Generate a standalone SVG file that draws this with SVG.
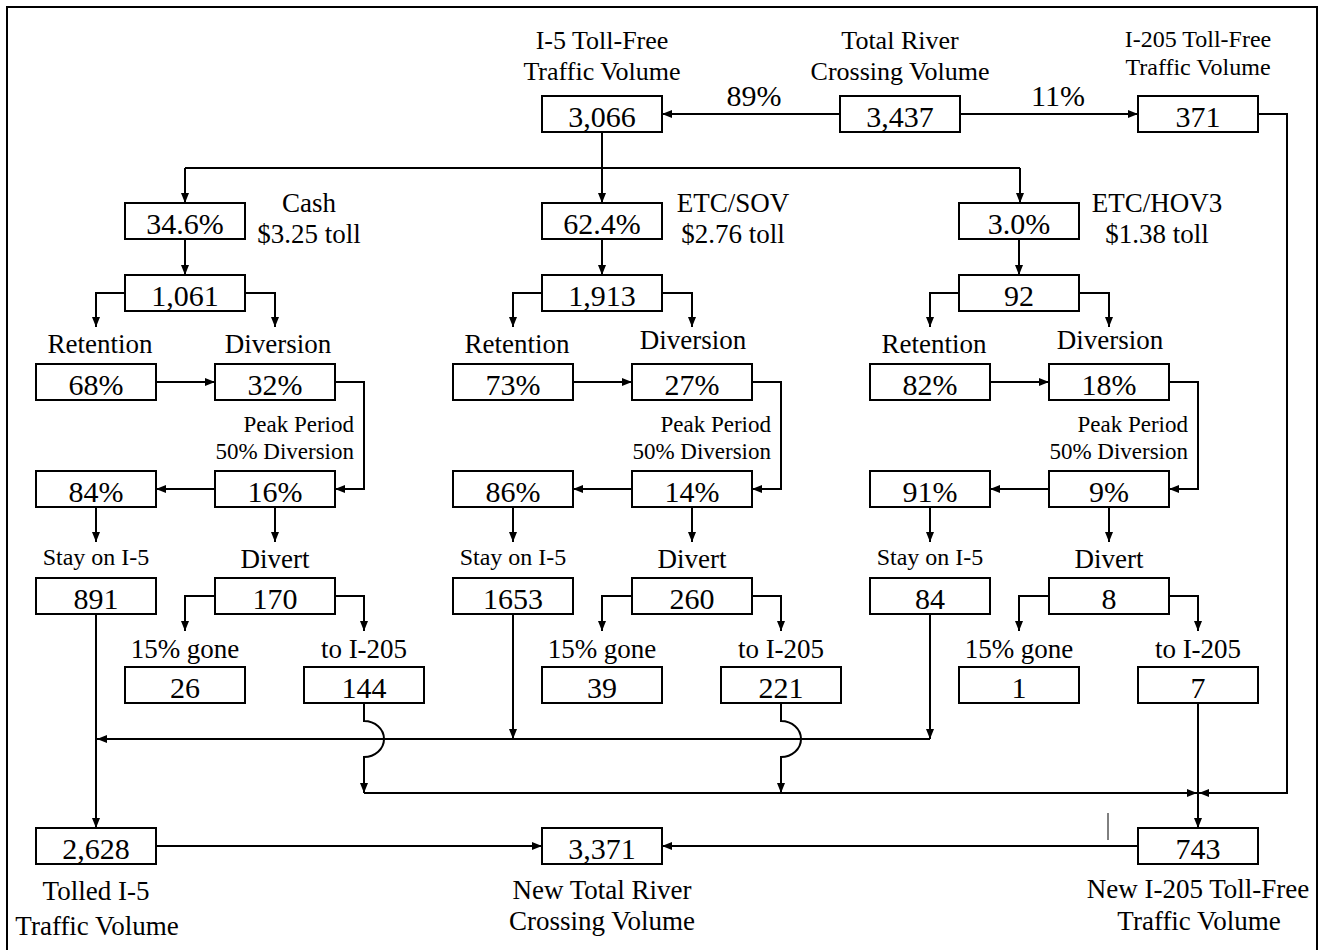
<svg xmlns="http://www.w3.org/2000/svg" width="1328" height="950" viewBox="0 0 1328 950">
<defs>
<marker id="ah" markerUnits="userSpaceOnUse" markerWidth="11" markerHeight="9" refX="10" refY="4" orient="auto">
<path d="M0,0 L10,4 L0,8 z" fill="#000"/>
</marker>
<style>
rect.b{fill:#fff;stroke:#000;stroke-width:2}
text{font-family:"Liberation Serif","Times New Roman",serif;fill:#000}
.v{font-size:30px;text-anchor:middle}
.l{font-size:27px;text-anchor:middle}
.t{font-size:26px;text-anchor:middle}
.s{font-size:24px;text-anchor:middle}
.p{font-size:23px;text-anchor:end}
#conn path{fill:none;stroke:#000;stroke-width:2}
#conn path.a{marker-end:url(#ah)}
</style>
</defs>
<rect width="1328" height="950" fill="#fff"/>
<path d="M7,960 L7,7 L1317,7 L1317,960" fill="none" stroke="#000" stroke-width="2"/>

<g id="conn">
<path class="a" d="M840,114 L662,114"/>
<path class="a" d="M960,114 L1138,114"/>
<path class="a" d="M602,132 L602,203"/>
<path d="M185,168 L1020,168"/>
<path class="a" d="M185,168 L185,203"/>
<path class="a" d="M1020,168 L1020,203"/>
<!-- Cash -->
<path class="a" d="M185,239 L185,275"/>
<path class="a" d="M125,293 L96,293 L96,327"/>
<path class="a" d="M245,293 L275,293 L275,327"/>
<path class="a" d="M156,382 L215,382"/>
<path class="a" d="M335,382 L364,382 L364,489 L335,489"/>
<path class="a" d="M215,489 L156,489"/>
<path class="a" d="M96,507 L96,542"/>
<path class="a" d="M275,507 L275,542"/>
<path class="a" d="M215,596 L185,596 L185,631"/>
<path class="a" d="M335,596 L364,596 L364,631"/>
<path class="a" d="M96,614 L96,828"/>
<path class="a" d="M364,704 L364,721 A20,18 0 0 1 364,757 L364,793"/>
<!-- SOV -->
<path class="a" d="M602,239 L602,275"/>
<path class="a" d="M542,293 L513,293 L513,327"/>
<path class="a" d="M662,293 L692,293 L692,327"/>
<path class="a" d="M573,382 L632,382"/>
<path class="a" d="M752,382 L781,382 L781,489 L752,489"/>
<path class="a" d="M632,489 L573,489"/>
<path class="a" d="M513,507 L513,542"/>
<path class="a" d="M692,507 L692,542"/>
<path class="a" d="M632,596 L602,596 L602,631"/>
<path class="a" d="M752,596 L781,596 L781,631"/>
<path class="a" d="M513,614 L513,739"/>
<path class="a" d="M781,704 L781,721 A20,18 0 0 1 781,757 L781,793"/>
<!-- HOV -->
<path class="a" d="M1019,239 L1019,275"/>
<path class="a" d="M959,293 L930,293 L930,327"/>
<path class="a" d="M1079,293 L1109,293 L1109,327"/>
<path class="a" d="M990,382 L1049,382"/>
<path class="a" d="M1169,382 L1198,382 L1198,489 L1169,489"/>
<path class="a" d="M1049,489 L990,489"/>
<path class="a" d="M930,507 L930,542"/>
<path class="a" d="M1109,507 L1109,542"/>
<path class="a" d="M1049,596 L1019,596 L1019,631"/>
<path class="a" d="M1169,596 L1198,596 L1198,631"/>
<path class="a" d="M930,614 L930,739"/>
<!-- merges -->
<path class="a" d="M930,739 L97,739"/>
<path class="a" d="M364,793 L1197,793"/>
<path class="a" d="M1258,114 L1287,114 L1287,793 L1199,793"/>
<path class="a" d="M1198,704 L1198,828"/>
<path class="a" d="M156,846 L542,846"/>
<path class="a" d="M1138,846 L662,846"/>
<path d="M1108,813 L1108,840" style="stroke-width:1"/>
</g>

<g id="lbl89"><text class="v" x="754" y="106">89%</text></g>
<g id="lbl11"><text class="v" x="1058" y="106">11%</text></g>

<g id="n_i5"><text class="t" x="602" y="49">I-5 Toll-Free</text><text class="t" x="602" y="80">Traffic Volume</text><rect class="b" x="542" y="96" width="120" height="36"/><text class="v" x="602" y="127">3,066</text></g>
<g id="n_total"><text class="t" x="900" y="49">Total River</text><text class="t" x="900" y="80">Crossing Volume</text><rect class="b" x="840" y="96" width="120" height="36"/><text class="v" x="900" y="127">3,437</text></g>
<g id="n_i205"><text class="s" x="1198" y="47">I-205 Toll-Free</text><text class="s" x="1198" y="75">Traffic Volume</text><rect class="b" x="1138" y="96" width="120" height="36"/><text class="v" x="1198" y="127">371</text></g>

<!-- Cash group -->
<g id="n_cash"><rect class="b" x="125" y="203" width="120" height="36"/><text class="v" x="185" y="234">34.6%</text><text class="l" x="309" y="212">Cash</text><text class="l" x="309" y="243">$3.25 toll</text></g>
<g id="n_cash_vol"><rect class="b" x="125" y="275" width="120" height="36"/><text class="v" x="185" y="306">1,061</text></g>
<g id="n_cash_ret"><text class="l" x="100" y="353">Retention</text><rect class="b" x="36" y="364" width="120" height="36"/><text class="v" x="96" y="395">68%</text></g>
<g id="n_cash_div"><text class="l" x="278" y="353">Diversion</text><rect class="b" x="215" y="364" width="120" height="36"/><text class="v" x="275" y="395">32%</text></g>
<g id="n_cash_peak"><text class="p" x="354" y="432">Peak Period</text><text class="p" x="354" y="459">50% Diversion</text></g>
<g id="n_cash_stay_pct"><rect class="b" x="36" y="471" width="120" height="36"/><text class="v" x="96" y="502">84%</text></g>
<g id="n_cash_div_pct"><rect class="b" x="215" y="471" width="120" height="36"/><text class="v" x="275" y="502">16%</text></g>
<g id="n_cash_stay"><text class="s" x="96" y="565">Stay on I-5</text><rect class="b" x="36" y="578" width="120" height="36"/><text class="v" x="96" y="609">891</text></g>
<g id="n_cash_divert"><text class="l" x="275" y="568">Divert</text><rect class="b" x="215" y="578" width="120" height="36"/><text class="v" x="275" y="609">170</text></g>
<g id="n_cash_gone"><text class="l" x="185" y="658">15% gone</text><rect class="b" x="125" y="667" width="120" height="36"/><text class="v" x="185" y="698">26</text></g>
<g id="n_cash_205"><text class="l" x="364" y="658">to I-205</text><rect class="b" x="304" y="667" width="120" height="36"/><text class="v" x="364" y="698">144</text></g>

<!-- SOV group -->
<g id="n_sov"><rect class="b" x="542" y="203" width="120" height="36"/><text class="v" x="602" y="234">62.4%</text><text class="l" x="733" y="212">ETC/SOV</text><text class="l" x="733" y="243">$2.76 toll</text></g>
<g id="n_sov_vol"><rect class="b" x="542" y="275" width="120" height="36"/><text class="v" x="602" y="306">1,913</text></g>
<g id="n_sov_ret"><text class="l" x="517" y="353">Retention</text><rect class="b" x="453" y="364" width="120" height="36"/><text class="v" x="513" y="395">73%</text></g>
<g id="n_sov_div"><text class="l" x="693" y="349">Diversion</text><rect class="b" x="632" y="364" width="120" height="36"/><text class="v" x="692" y="395">27%</text></g>
<g id="n_sov_peak"><text class="p" x="771" y="432">Peak Period</text><text class="p" x="771" y="459">50% Diversion</text></g>
<g id="n_sov_stay_pct"><rect class="b" x="453" y="471" width="120" height="36"/><text class="v" x="513" y="502">86%</text></g>
<g id="n_sov_div_pct"><rect class="b" x="632" y="471" width="120" height="36"/><text class="v" x="692" y="502">14%</text></g>
<g id="n_sov_stay"><text class="s" x="513" y="565">Stay on I-5</text><rect class="b" x="453" y="578" width="120" height="36"/><text class="v" x="513" y="609">1653</text></g>
<g id="n_sov_divert"><text class="l" x="692" y="568">Divert</text><rect class="b" x="632" y="578" width="120" height="36"/><text class="v" x="692" y="609">260</text></g>
<g id="n_sov_gone"><text class="l" x="602" y="658">15% gone</text><rect class="b" x="542" y="667" width="120" height="36"/><text class="v" x="602" y="698">39</text></g>
<g id="n_sov_205"><text class="l" x="781" y="658">to I-205</text><rect class="b" x="721" y="667" width="120" height="36"/><text class="v" x="781" y="698">221</text></g>

<!-- HOV group -->
<g id="n_hov"><rect class="b" x="959" y="203" width="120" height="36"/><text class="v" x="1019" y="234">3.0%</text><text class="l" x="1157" y="212">ETC/HOV3</text><text class="l" x="1157" y="243">$1.38 toll</text></g>
<g id="n_hov_vol"><rect class="b" x="959" y="275" width="120" height="36"/><text class="v" x="1019" y="306">92</text></g>
<g id="n_hov_ret"><text class="l" x="934" y="353">Retention</text><rect class="b" x="870" y="364" width="120" height="36"/><text class="v" x="930" y="395">82%</text></g>
<g id="n_hov_div"><text class="l" x="1110" y="349">Diversion</text><rect class="b" x="1049" y="364" width="120" height="36"/><text class="v" x="1109" y="395">18%</text></g>
<g id="n_hov_peak"><text class="p" x="1188" y="432">Peak Period</text><text class="p" x="1188" y="459">50% Diversion</text></g>
<g id="n_hov_stay_pct"><rect class="b" x="870" y="471" width="120" height="36"/><text class="v" x="930" y="502">91%</text></g>
<g id="n_hov_div_pct"><rect class="b" x="1049" y="471" width="120" height="36"/><text class="v" x="1109" y="502">9%</text></g>
<g id="n_hov_stay"><text class="s" x="930" y="565">Stay on I-5</text><rect class="b" x="870" y="578" width="120" height="36"/><text class="v" x="930" y="609">84</text></g>
<g id="n_hov_divert"><text class="l" x="1109" y="568">Divert</text><rect class="b" x="1049" y="578" width="120" height="36"/><text class="v" x="1109" y="609">8</text></g>
<g id="n_hov_gone"><text class="l" x="1019" y="658">15% gone</text><rect class="b" x="959" y="667" width="120" height="36"/><text class="v" x="1019" y="698">1</text></g>
<g id="n_hov_205"><text class="l" x="1198" y="658">to I-205</text><rect class="b" x="1138" y="667" width="120" height="36"/><text class="v" x="1198" y="698">7</text></g>

<!-- Bottom -->
<g id="n_tolled"><rect class="b" x="36" y="828" width="120" height="36"/><text class="v" x="96" y="859">2,628</text><text class="l" x="96" y="900">Tolled I-5</text><text class="l" x="97" y="935">Traffic Volume</text></g>
<g id="n_newtotal"><rect class="b" x="542" y="828" width="120" height="36"/><text class="v" x="602" y="859">3,371</text><text class="l" x="602" y="899">New Total River</text><text class="l" x="602" y="930">Crossing Volume</text></g>
<g id="n_new205"><rect class="b" x="1138" y="828" width="120" height="36"/><text class="v" x="1198" y="859">743</text><text class="l" x="1198" y="898">New I-205 Toll-Free</text><text class="l" x="1199" y="930">Traffic Volume</text></g>
</svg>
